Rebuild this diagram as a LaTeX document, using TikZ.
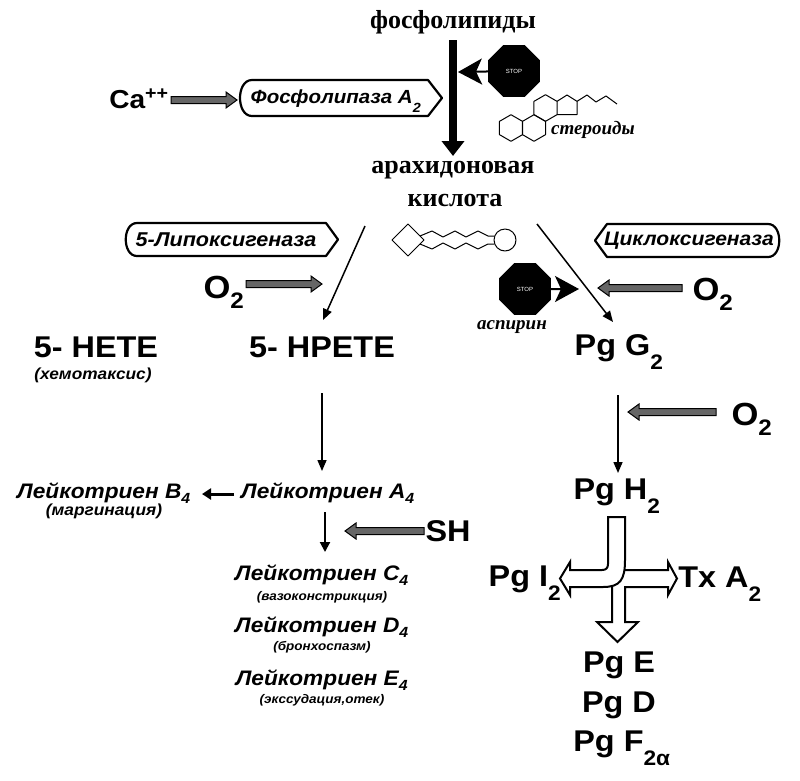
\documentclass[tikz,border=0pt]{standalone}
\usepackage{fontspec}
\setmainfont{Liberation Sans}
\newfontfamily\sansw[FakeStretch=1.08]{Liberation Sans}
\newfontfamily\serifw{Liberation Serif}
\usetikzlibrary{arrows.meta,shapes.geometric,calc}
\newcommand\lsub[1]{\smash{\raisebox{-0.28em}{\textsubscript{#1}}}}
\newcommand\msub[1]{\smash{\raisebox{-0.1em}{\textsubscript{#1}}}}
\newcommand\hatchR[2]{\filldraw[hatchfill] let \p1=(#1), \p2=(#2) in
  (\x1,\y1+3.5pt) -- (\x2-11pt,\y1+3.5pt) -- (\x2-11pt,\y1+8pt) -- (\x2,\y1) -- (\x2-11pt,\y1-8pt) -- (\x2-11pt,\y1-3.5pt) -- (\x1,\y1-3.5pt) -- cycle;}
\newcommand\hatchL[2]{\filldraw[hatchfill] let \p1=(#1), \p2=(#2) in
  (\x1,\y1+3.5pt) -- (\x2+11pt,\y1+3.5pt) -- (\x2+11pt,\y1+8pt) -- (\x2,\y1) -- (\x2+11pt,\y1-8pt) -- (\x2+11pt,\y1-3.5pt) -- (\x1,\y1-3.5pt) -- cycle;}
\tikzset{
 serifbig/.style={font=\serifw\bfseries\fontsize{26}{28}\selectfont, inner sep=0pt},
 serifit/.style={font=\serifw\bfseries\itshape\fontsize{19}{21}\selectfont, inner sep=0pt},
 big/.style={font=\sansw\bfseries\fontsize{30}{32}\selectfont, inner sep=0pt},
 calabel/.style={font=\sansw\bfseries\fontsize{26}{28}\selectfont, inner sep=0pt},
 oxy/.style={font=\sansw\bfseries\fontsize{32}{34}\selectfont, inner sep=0pt},
 leuk/.style={font=\sansw\bfseries\itshape\fontsize{21}{23}\selectfont, inner sep=0pt},
 note/.style={font=\sansw\bfseries\itshape\fontsize{16}{18}\selectfont, inner sep=0pt},
 smallnote/.style={font=\sansw\bfseries\itshape\fontsize{12.5}{14}\selectfont, inner sep=0pt},
 enzlabel/.style={font=\sansw\bfseries\itshape\fontsize{20}{22}\selectfont, inner sep=0pt},
 enzbox/.style={line width=2.2pt, line join=round},
 heavy/.style={line width=8pt, -{Triangle[length=15pt,width=22pt]}},
 thinarrow/.style={line width=1.5pt, -{Triangle[length=11pt,width=9pt]}},
 midarrow/.style={line width=3pt, -{Triangle[length=9pt,width=11pt]}},
 hatchfill/.style={fill=black!60, draw=black, line width=1pt, line join=miter},
 stopsign/.style={regular polygon, regular polygon sides=8, fill=black, text=white, minimum size=56pt, inner sep=0pt, font=\fontsize{6}{7}\selectfont},
 stoparrow/.style={line width=2pt, -{Stealth[length=24pt,width=26pt,inset=6pt]}},
 ring/.style={line width=1pt, line join=round},
 hollow/.style={fill=white, draw=black, line width=2pt, line join=miter},
}
\begin{document}
\begin{tikzpicture}[x=1pt,y=-1pt]
\useasboundingbox (0,0) rectangle (800,780);
\fill[white] (0,0) rectangle (800,780);

% top
\node[serifbig] (fl) at (453,22) {фосфолипиды};
\node[serifbig] (ak1) at (453,170) {арахидоновая};
\node[serifbig] (ak2) at (455,200) {кислота};
\coordinate (flS) at (453,40);
\coordinate (akN) at (453,156);
\draw[heavy] (flS) -- (akN);

\node[calabel] (ca) at (139,99) {Ca\textsuperscript{++}};
\coordinate (caS) at (171,100);
\coordinate (caE) at (237,100);
\hatchR{caS}{caE}

\node[enzlabel, font=\sansw\bfseries\itshape\fontsize{19}{21}\selectfont] (pla) at (336,99) {Фосфолипаза A\lsub{2}};
\draw[enzbox] (428,80) -- (442,98) -- (428,116) -- (252,116) .. controls (236,116) and (236,80) .. (252,80) -- cycle;

\node[stopsign] (stop1) at (514,71) {STOP};
\coordinate (stop1tip) at (458,72);
\draw[stoparrow] (stop1) -- (stop1tip);

% steroid
\draw[ring] (511,128) +(30:13.3) -- +(90:13.3) -- +(150:13.3) -- +(210:13.3) -- +(270:13.3) -- +(330:13.3) -- cycle;
\draw[ring] (534,128) +(30:13.3) -- +(90:13.3) -- +(150:13.3) -- +(210:13.3) -- +(270:13.3) -- +(330:13.3) -- cycle;
\draw[ring] (545.5,108) +(30:13.3) -- +(90:13.3) -- +(150:13.3) -- +(210:13.3) -- +(270:13.3) -- +(330:13.3) -- cycle;
\draw[ring] (557,101.35) -- (567,95) -- (577,101.35) -- (577,114.65) -- (557,114.65);
\draw[ring] (577,101.35) -- (587,95) -- (596,102) -- (606,96) -- (617,104);
\node[serifit] (ster) at (593,130) {стероиды};

% enzymes
\node[enzlabel] (lox) at (226,240) {5-Липоксигеназа};
\draw[enzbox] (326,223) -- (338,239.5) -- (326,256) -- (137,256) .. controls (122,256) and (122,223) .. (137,223) -- cycle;
\node[enzlabel, font=\sansw\bfseries\itshape\fontsize{19.5}{21}\selectfont] (cox) at (689,241) {Циклоксигеназа};
\draw[enzbox] (607,224) -- (595,240.5) -- (607,257) -- (768,257) .. controls (783,257) and (783,224) .. (768,224) -- cycle;

% arachidonic molecule
\draw[ring] (392,240) -- (408,224) -- (424,240) -- (408,256) -- cycle;
\draw[ring] (420,236) -- (432,231) -- (443,237) -- (455,231) -- (466,237) -- (478,231) -- (488,236) -- (494,236);
\draw[ring] (420,244) -- (432,249) -- (443,243) -- (455,249) -- (466,243) -- (478,249) -- (488,244) -- (494,244);
\draw[ring] (505,240) circle[radius=11];

% branches
\coordinate (l1) at (365,226); \coordinate (l2) at (323,320);
\draw[thinarrow] (l1) -- (l2);
\coordinate (r1) at (537,224); \coordinate (r2) at (613,322);
\draw[thinarrow] (r1) -- (r2);

\node[oxy] (o2a) at (224,287) {O\msub{2}};
\coordinate (o2aS) at (246,284); \coordinate (o2aE) at (322,284);
\hatchR{o2aS}{o2aE}

\node[stopsign] (stop2) at (525,289) {STOP};
\coordinate (stop2tip) at (579,289);
\draw[stoparrow] (stop2) -- (stop2tip);
\node[serifit] (asp) at (512,327) {аспирин};

\node[oxy] (o2b) at (713,289) {O\msub{2}};
\coordinate (o2bS) at (682,288); \coordinate (o2bE) at (598,288);
\hatchL{o2bS}{o2bE}

% row of products
\node[big] (hete) at (96,347) {5- HETE};
\node[note] (chem) at (93,375) {(хемотаксис)};
\node[big] (hpete) at (322,347) {5- HPETE};
\node[big] (pgg) at (619,348) {Pg G\lsub{2}};

\coordinate (h1) at (322,393); \coordinate (h2) at (322,471);
\draw[thinarrow] (h1) -- (h2);
\coordinate (g1) at (618,395); \coordinate (g2) at (618,473);
\draw[thinarrow] (g1) -- (g2);

\node[oxy] (o2c) at (752,414) {O\msub{2}};
\coordinate (o2cS) at (716,412); \coordinate (o2cE) at (628,412);
\hatchL{o2cS}{o2cE}

% leukotrienes
\node[leuk] (b4) at (104,493) {Лейкотриен B\msub{4}};
\node[note] (marg) at (104,511) {(маргинация)};
\node[leuk] (a4) at (328,493) {Лейкотриен A\msub{4}};
\coordinate (a4w) at (234,494); \coordinate (b4e) at (202,494);
\draw[midarrow] (a4w) -- (b4e);
\coordinate (a4s) at (325,512); \coordinate (c4top) at (325,552);
\draw[line width=2pt, -{Triangle[length=10pt,width=10pt]}] (a4s) -- (c4top);
\node[big] (sh) at (448,531) {SH};
\coordinate (shS) at (424,531); \coordinate (shE) at (345,531);
\hatchL{shS}{shE}

\node[leuk] (c4) at (322,575) {Лейкотриен C\msub{4}};
\node[smallnote] (c4n) at (322,597) {(вазоконстрикция)};
\node[leuk] (d4) at (322,627) {Лейкотриен D\msub{4}};
\node[smallnote] (d4n) at (322,647) {(бронхоспазм)};
\node[leuk] (e4) at (322,680) {Лейкотриен E\msub{4}};
\node[smallnote] (e4n) at (322,700) {(экссудация,отек)};

% prostaglandins
\node[big] (pgh) at (617,492) {Pg H\lsub{2}};
\filldraw[hollow] (625,570) -- (668,570) -- (668,562) -- (677,578.5) -- (668,595) -- (668,587) -- (625,587) -- (625,622) -- (638,622) -- (617.5,642) -- (597,622) -- (612,622) -- (612,587);
\filldraw[hollow] (608,517) -- (625,517) -- (625,560) .. controls (625,580) and (620,587) .. (603,587) -- (570,587) -- (570,595) -- (560,578.5) -- (570,562) -- (570,570) -- (602,570) .. controls (606,570) and (608,568) .. (608,564) -- cycle;
\node[big] (pgi) at (525,579) {Pg I\lsub{2}};
\node[big] (txa) at (720,577) {Tx A\lsub{2}};
\node[big] (pge) at (619,665) {Pg E};
\node[big] (pgd) at (619,705) {Pg D};
\node[big] (pgf) at (622,744) {Pg F\lsub{2α}};
\end{tikzpicture}
\end{document}
